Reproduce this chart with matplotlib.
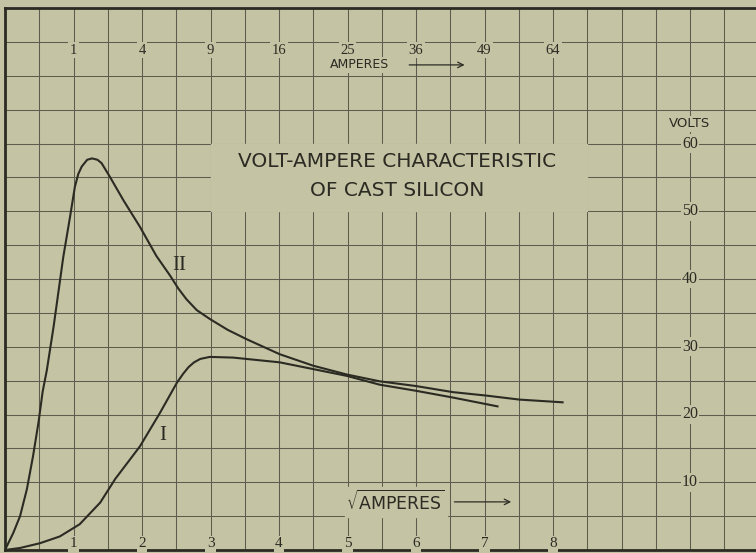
import matplotlib.pyplot as plt

# curve II (sqrt amperes, volts)
x2 = [0, 0.12, 0.22, 0.32, 0.41, 0.49, 0.55, 0.61, 0.71, 0.85, 0.95, 1.02, 1.07, 1.12,
      1.2, 1.27, 1.35, 1.41, 1.53, 1.73, 1.97, 2.21, 2.41, 2.53, 2.65, 2.8, 2.99,
      3.25, 3.53, 4.01, 4.5, 4.99, 5.47, 6.0, 6.54, 7.02, 7.51, 8.14]
v2 = [0, 2.5, 5, 9, 13.9, 18.9, 23.4, 26.5, 33, 43.2, 49.2, 53.6, 55.5, 56.6,
      57.6, 57.8, 57.6, 57.1, 55.1, 51.6, 47.7, 43.4, 40.5, 38.6, 37, 35.4, 34.1,
      32.5, 31.1, 28.9, 27.2, 25.9, 24.9, 24.2, 23.3, 22.8, 22.2, 21.8]

# curve I
x1 = [0, 0.22, 0.51, 0.8, 1.09, 1.39, 1.61, 1.97, 2.26, 2.51, 2.6, 2.68, 2.76,
      2.85, 2.99, 3.33, 4.01, 4.5, 4.99, 5.47, 6.0, 6.54, 7.19]
v1 = [0, 0.3, 1.0, 2.0, 3.8, 7.0, 10.5, 15.3, 20.2, 24.7, 26.0, 27.0, 27.7,
      28.2, 28.5, 28.4, 27.7, 26.7, 25.7, 24.4, 23.5, 22.5, 21.2]

sqrt_ticks = [1, 2, 3, 4, 5, 6, 7, 8]
amp_labels = ['1', '4', '9', '16', '25', '36', '49', '64']
volt_ticks = [10, 20, 30, 40, 50, 60]

paper = '#c4c3a3'
ink = '#2b2b24'
rule = '#5c5c4f'

fig = plt.figure(figsize=(7.56, 5.53), dpi=100, facecolor=paper)
ax = fig.add_axes([5 / 756, 3 / 553, 751 / 756, 542 / 553])
ax.set_facecolor(paper)
ax.set_xlim(0, 751 / 68.5)
ax.set_ylim(0, 80)

# grid paper
for i in range(1, 22):
    ax.axvline(i * 0.5, color=rule, lw=0.75, zorder=1)
for j in range(1, 16):
    ax.axhline(j * 5, color=rule, lw=0.75, zorder=1)

for side in ['left', 'top', 'bottom']:
    ax.spines[side].set_linewidth(2)
    ax.spines[side].set_color(ink)
ax.spines['right'].set_visible(False)
ax.set_xticks([])
ax.set_yticks([])

ax.plot(x2, v2, color=ink, lw=1.5, zorder=3)
ax.plot(x1, v1, color=ink, lw=1.5, zorder=3)

serif = ['Liberation Serif', 'DejaVu Serif']
box = dict(facecolor=paper, edgecolor='none', pad=1)

for x, lab in zip(sqrt_ticks, sqrt_ticks):
    ax.text(x, 0.9, str(lab), ha='center', va='center', family=serif,
            fontsize=11, color=ink, bbox=box, zorder=4)
for x, lab in zip(sqrt_ticks, amp_labels):
    ax.text(x, 73.8, lab, ha='center', va='center', family=serif,
            fontsize=10.5, color=ink, bbox=box, zorder=4)
for v in volt_ticks:
    ax.text(10, v, str(v), ha='center', va='center', family=serif,
            fontsize=11.5, color=ink, bbox=box, zorder=4)
ax.text(10, 62.9, 'VOLTS', ha='center', va='center', fontsize=9.5,
        color=ink, bbox=box, zorder=4)

# top axis label
ax.text(5.18, 71.6, 'AMPERES', ha='center', va='center', fontsize=9,
        color=ink, bbox=box, zorder=4)
ax.annotate('', xy=(6.75, 71.6), xytext=(5.86, 71.6),
            arrowprops=dict(arrowstyle='->', color=ink, lw=0.9), zorder=4)

# title block
ax.fill_between([3.0, 8.5], 50, 60, color=paper, zorder=2)
ax.text(5.72, 57.3, 'VOLT-AMPERE CHARACTERISTIC', ha='center', va='center',
        fontsize=14.5, color=ink, zorder=4)
ax.text(5.72, 53.0, 'OF CAST SILICON', ha='center', va='center',
        fontsize=14.5, color=ink, zorder=4)

# bottom axis label
ax.fill_between([4.97, 6.45], 4.9, 9.3, color=paper, zorder=2)
ax.text(5.7, 7.1, r'$\sqrt{\mathsf{AMPERES}}$', ha='center', va='center',
        fontsize=12.5, color=ink, zorder=4)
ax.annotate('', xy=(7.43, 7.1), xytext=(6.52, 7.1),
            arrowprops=dict(arrowstyle='->', color=ink, lw=0.9), zorder=4)

ax.text(2.55, 42, 'II', ha='center', va='center', family=serif,
        fontsize=15, color=ink, zorder=4)
ax.text(2.3, 16.9, 'I', ha='center', va='center', family=serif,
        fontsize=15, color=ink, zorder=4)

fig.savefig('out.png', dpi=100, facecolor=paper)
